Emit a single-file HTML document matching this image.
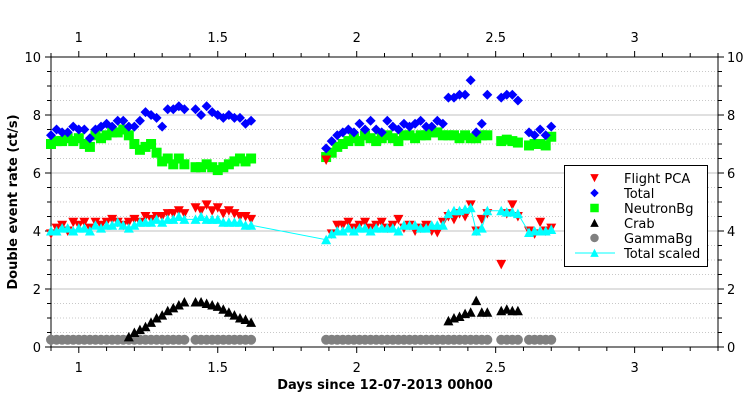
<!DOCTYPE html>
<html><head><meta charset="utf-8"><style>
body{margin:0;background:#fff;}
svg{display:block;font-family:"DejaVu Sans","Liberation Sans",sans-serif;}
</style></head><body>
<svg id="chart" width="754" height="402"></svg>
<script>
const times=[0.90,0.92,0.94,0.96,0.98,1.00,1.02,1.04,1.06,1.08,1.10,1.12,1.14,1.16,1.18,1.20,1.22,1.24,1.26,1.28,1.30,1.32,1.34,1.36,1.38,
1.42,1.44,1.46,1.48,1.50,1.52,1.54,1.56,1.58,1.60,1.62,
1.89,1.91,1.93,1.95,1.97,1.99,2.01,2.03,2.05,2.07,2.09,2.11,2.13,2.15,2.17,2.19,2.21,2.23,2.25,2.27,2.29,2.31,2.33,2.35,2.37,2.39,2.41,2.43,2.45,2.47,
2.52,2.54,2.56,2.58,
2.62,2.64,2.66,2.68,2.70];
const flightPCA=[3.9,4.1,4.2,4.0,4.3,4.2,4.3,4.1,4.3,4.2,4.3,4.4,4.3,4.2,4.3,4.4,4.3,4.5,4.4,4.5,4.5,4.6,4.6,4.7,4.6,
4.8,4.7,4.9,4.7,4.8,4.6,4.7,4.6,4.5,4.5,4.4,
6.45,3.9,4.2,4.2,4.3,4.1,4.2,4.3,4.1,4.2,4.3,4.1,4.2,4.4,4.1,4.2,4.0,4.1,4.2,4.0,3.95,4.3,4.5,4.4,4.6,4.5,4.9,4.0,4.4,4.6,
2.85,4.6,4.9,4.5,
4.0,3.9,4.3,4.0,4.1];
const totalScaled=[4.0,4.0,4.1,4.1,4.0,4.1,4.1,4.0,4.2,4.1,4.2,4.2,4.3,4.2,4.1,4.2,4.3,4.3,4.3,4.4,4.3,4.4,4.4,4.5,4.4,
4.4,4.5,4.4,4.4,4.4,4.3,4.3,4.3,4.3,4.2,4.2,
3.7,3.9,4.0,4.0,4.1,4.0,4.1,4.1,4.0,4.1,4.1,4.1,4.1,4.0,4.2,4.2,4.2,4.1,4.1,4.2,4.2,4.2,4.6,4.7,4.7,4.75,4.8,4.0,4.1,4.7,
4.7,4.65,4.65,4.6,
3.95,4.0,4.0,4.0,4.05];
const total=[7.3,7.5,7.4,7.4,7.6,7.5,7.5,7.2,7.5,7.6,7.7,7.6,7.8,7.8,7.6,7.6,7.8,8.1,8.0,7.9,7.6,8.2,8.2,8.3,8.2,
8.2,8.0,8.3,8.1,8.0,7.9,8.0,7.9,7.9,7.7,7.8,
6.85,7.1,7.3,7.4,7.5,7.4,7.7,7.5,7.8,7.5,7.4,7.8,7.6,7.5,7.7,7.6,7.7,7.8,7.6,7.6,7.8,7.7,8.6,8.6,8.7,8.7,9.2,7.4,7.7,8.7,
8.6,8.7,8.7,8.5,
7.4,7.3,7.5,7.3,7.6];
const neutronBg=[7.0,7.1,7.1,7.2,7.1,7.2,7.0,6.9,7.3,7.2,7.3,7.4,7.4,7.5,7.3,7.0,6.8,6.9,7.0,6.7,6.4,6.5,6.3,6.5,6.3,
6.2,6.2,6.3,6.2,6.1,6.2,6.3,6.4,6.5,6.4,6.5,
6.55,6.7,6.9,7.0,7.1,7.2,7.1,7.3,7.2,7.1,7.2,7.3,7.2,7.1,7.3,7.3,7.2,7.3,7.3,7.4,7.4,7.3,7.3,7.3,7.2,7.3,7.2,7.2,7.3,7.3,
7.1,7.15,7.1,7.05,
6.95,7.0,7.0,6.95,7.25];
const crab=[null,null,null,null,null,null,null,null,null,null,null,null,null,null,0.35,0.5,0.6,0.7,0.85,1.0,1.1,1.25,1.35,1.45,1.55,
1.55,1.55,1.5,1.45,1.4,1.3,1.2,1.1,1.0,0.95,0.85,
null,null,null,null,null,null,null,null,null,null,null,null,null,null,null,null,null,null,null,null,null,null,0.9,1.0,1.05,1.15,1.2,1.6,1.2,1.2,
1.25,1.3,1.25,1.25,
null,null,null,null,null];
const gammaBg=[0.25,0.25,0.25,0.25,0.25,0.25,0.25,0.25,0.25,0.25,0.25,0.25,0.25,0.25,0.25,0.25,0.25,0.25,0.25,0.25,0.25,0.25,0.25,0.25,0.25,
0.25,0.25,0.25,0.25,0.25,0.25,0.25,0.25,0.25,0.25,0.25,
0.25,0.25,0.25,0.25,0.25,0.25,0.25,0.25,0.25,0.25,0.25,0.25,0.25,0.25,0.25,0.25,0.25,0.25,0.25,0.25,0.25,0.25,0.25,0.25,0.25,0.25,0.25,0.25,0.25,0.25,
0.25,0.25,0.25,0.25,
0.25,0.25,0.25,0.25,0.25];
const xTicks=[1,1.5,2,2.5,3];
const xTickLabels=["1","1.5","2","2.5","3"];
const yTicks=[0,2,4,6,8,10];
const yTickLabels=["0","2","4","6","8","10"];

const L=51,R=718,T=57,B=347,X0=0.9,X1=3.3,Y0=0,Y1=10;
const sx=v=>L+(v-X0)/(X1-X0)*(R-L);
const sy=v=>B-(v-Y0)/(Y1-Y0)*(B-T);
const NS="http://www.w3.org/2000/svg";
const svg=document.getElementById('chart');
function mk(tag,attrs,parent){const e=document.createElementNS(NS,tag);for(const k in attrs)e.setAttribute(k,attrs[k]);(parent||svg).appendChild(e);return e;}

const grid=mk('g',{});


for(let v=0.5;v<10;v+=0.5){
  const major=Math.abs(v%2)<1e-9;
  const ln=mk('line',{x1:L,x2:R,y1:sy(v),y2:sy(v),stroke:major?'#c0c0c0':'#c8c8c8','stroke-width':1,'stroke-dasharray':major?'none':'1,2'},grid);
  
  
}
const frame=mk('rect',{x:L,y:T,width:R-L,height:B-T,fill:'none',stroke:'#000','stroke-width':1});


const ticks=mk('g',{stroke:'#000','stroke-width':1});


for(let i=0;i<=24;i++){
  const v=X0+i*0.1;const x=sx(v);
  const major=xTicks.some(t=>Math.abs(t-v)<1e-6);
  const len=major?6:4;
  mk('line',{x1:x,x2:x,y1:B,y2:B+len},ticks);
  mk('line',{x1:x,x2:x,y1:T,y2:T-len},ticks);
}
for(let v=0;v<=10.001;v+=0.5){
  const y=sy(v);const major=yTicks.some(t=>Math.abs(t-v)<1e-6);const len=major?6:4;
  mk('line',{x1:L,x2:L-len,y1:y,y2:y},ticks);
  mk('line',{x1:R,x2:R+len,y1:y,y2:y},ticks);
}
xTicks.forEach((t,i)=>{
  const a=mk('text',{x:sx(t),y:372,'font-size':13,'text-anchor':'middle',fill:'#000'});a.textContent=xTickLabels[i];
  
  
  const b=mk('text',{x:sx(t),y:42,'font-size':13,'text-anchor':'middle',fill:'#000'});b.textContent=xTickLabels[i];
  
  
});
yTicks.forEach((t,i)=>{
  const a=mk('text',{x:41,y:sy(t)+5,'font-size':13,'text-anchor':'end',fill:'#000'});a.textContent=yTickLabels[i];
  
  
  const b=mk('text',{x:727,y:sy(t)+5,'font-size':13,'text-anchor':'start',fill:'#000'});b.textContent=yTickLabels[i];
  
  
});
const xt=mk('text',{x:385,y:389,'font-size':13,'font-weight':'bold','text-anchor':'middle'});xt.textContent='Days since 12-07-2013 00h00';


const yt=mk('text',{x:0,y:0,'font-size':13,'font-weight':'bold','text-anchor':'middle',transform:'translate(17,202) rotate(-90)'});yt.textContent='Double event rate (ct/s)';



function marker(type,x,y,color,parent){
  let e;const s=5;
  if(type==='tdown')e=mk('polygon',{points:`${x-s},${y-4.5} ${x+s},${y-4.5} ${x},${y+5}`,fill:color},parent);
  else if(type==='tup')e=mk('polygon',{points:`${x-s},${y+4.5} ${x+s},${y+4.5} ${x},${y-5}`,fill:color},parent);
  else if(type==='diamond')e=mk('polygon',{points:`${x},${y-s} ${x+s},${y} ${x},${y+s} ${x-s},${y}`,fill:color},parent);
  else if(type==='square')e=mk('rect',{x:x-s,y:y-s,width:2*s,height:2*s,fill:color},parent);
  else e=mk('circle',{cx:x,cy:y,r:5,fill:color},parent);
  return e;
}
function series(name,vals,type,color){
  const g=mk('g',{});
  
  
  vals.forEach((v,i)=>{
    if(v===null)return;
    const m=marker(type,sx(times[i]),sy(v),color,g);
    
    
  });
}
series('gammabg',gammaBg,'circle','#808080');
series('crab',crab,'tup','#000000');
series('neutronbg',neutronBg,'square','#00ff00');
series('total',total,'diamond','#0000ff');
series('flight-pca',flightPCA,'tdown','#ff0000');
const pl=mk('polyline',{points:times.map((t,i)=>sx(t)+','+sy(totalScaled[i])).join(' '),fill:'none',stroke:'#00ffff','stroke-width':1});


series('total-scaled',totalScaled,'tup','#00ffff');

const lg=mk('g',{});


mk('rect',{x:564.5,y:165.5,width:143,height:101,fill:'#fff',stroke:'#000','stroke-width':1},lg);
const entries=[['Flight PCA','tdown','#ff0000'],['Total','diamond','#0000ff'],['NeutronBg','square','#00ff00'],['Crab','tup','#000000'],['GammaBg','circle','#808080'],['Total scaled','tup','#00ffff']];
entries.forEach((e,i)=>{
  const y=178+i*15;
  const eg=mk('g',{},lg);
  
  
  if(i===5)mk('line',{x1:575,x2:615,y1:y,y2:y,stroke:'#00ffff','stroke-width':1},eg);
  const ms=mk('g',{transform:`translate(594.5,${y}) scale(0.85) translate(-594.5,${-y})`},eg);
  marker(e[1],594.5,y,e[2],ms);
  const t=mk('text',{x:624,y:y+5,'font-size':13,fill:'#000'},eg);t.textContent=e[0];
});
</script>
</body></html>
